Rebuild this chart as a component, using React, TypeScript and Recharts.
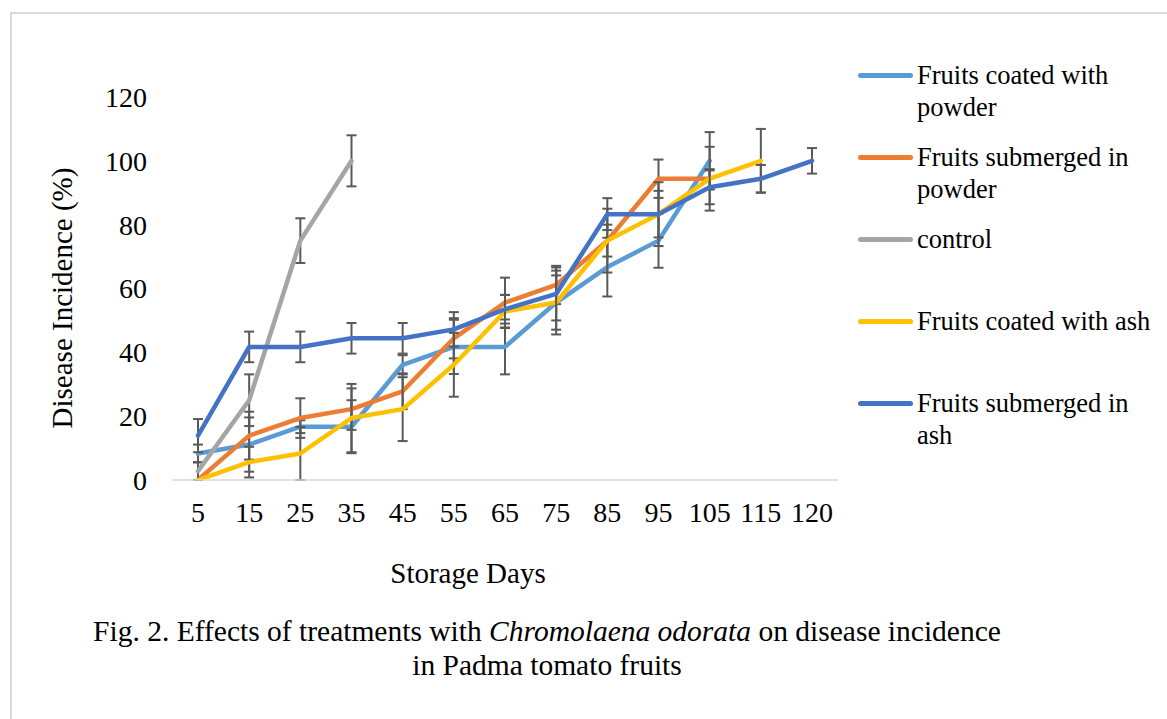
import React from 'react';
import { LineChart, Line, XAxis, YAxis, ErrorBar } from 'recharts';

// storage days (category axis)
const days = ['5', '15', '25', '35', '45', '55', '65', '75', '85', '95', '105', '115', '120'];

// disease incidence (%) per treatment, with standard error
const coatedPowder = [8.3, 11.1, 16.7, 16.7, 36.1, 41.7, 41.7, 55.6, 66.7, 75, 100, null, null];
const coatedPowderErr = [2.8, 8.5, 2, 8.3, 3, 8.5, 8.6, 10, 9.2, 8.5, 9, null, null];

const submergedPowder = [0, 13.9, 19.4, 22.2, 27.8, 44.4, 55.6, 61.1, 75, 94.4, 94.4, null, null];
const submergedPowderErr = [0, 7.5, 6.2, 6.5, 5.6, 6.3, 7.8, 6, 5, 6, 10, null, null];

const control = [2.8, 25, 75, 100, null, null, null, null, null, null, null, null, null];
const controlErr = [2.8, 8.1, 7, 8, null, null, null, null, null, null, null, null, null];

const coatedAsh = [0, 5.6, 8.3, 19.4, 22.2, 36.1, 52.8, 55.6, 75, 83.3, 94.4, 100, null];
const coatedAshErr = [0, 4.8, 8.3, 10.7, 10, 10, 5.2, 8.5, 10, 10, 3, 10, null];

const submergedAsh = [13.9, 41.7, 41.7, 44.4, 44.4, 47.2, 53.5, 58.3, 83.3, 83.3, 91.7, 94.4, 100];
const submergedAshErr = [5.2, 4.8, 4.8, 4.8, 4.8, 5.4, 4.5, 8.3, 5, 7.3, 5.3, 4.3, 4];

const yTicks = [0, 20, 40, 60, 80, 100, 120];

const seriesNames = [
    'Fruits coated with powder',
    'Fruits submerged in powder',
    'control',
    'Fruits coated with ash',
    'Fruits submerged in ash',
];
const seriesColors = ['#5B9BD5', '#ED7D31', '#A5A5A5', '#FFC000', '#4472C4'];
const seriesValues = [coatedPowder, submergedPowder, control, coatedAsh, submergedAsh];
const seriesErrors = [coatedPowderErr, submergedPowderErr, controlErr, coatedAshErr, submergedAshErr];

const data = days.map((day, i) => {
    const row: Record<string, string | number | null> = { day };
    seriesValues.forEach((vals, s) => {
        row[`s${s}`] = vals[i];
        row[`e${s}`] = seriesErrors[s][i];
    });
    return row;
});

const FONT = "'Liberation Serif', 'Times New Roman', serif";

const YLabel = () => (
    <text
        x={62}
        y={298}
        transform="rotate(-90 62 298)"
        textAnchor="middle"
        dominantBaseline="central"
        fontFamily={FONT}
        fontSize={29}
        fill="#000"
    >
        Disease Incidence (%)
    </text>
);

const XLabel = () => (
    <text x={468} y={573} textAnchor="middle" dominantBaseline="central" fontFamily={FONT} fontSize={29} fill="#000">
        Storage Days
    </text>
);

export default function App() {
    return (
        <div style={{ position: 'absolute', left: 0, top: 0, width: 1167, height: 719, overflow: 'hidden', background: '#fff', fontFamily: FONT }}>
            <div style={{ position: 'absolute', left: 10, top: 12, width: 1300, height: 900, borderTop: '2px solid #d9d9d9', borderLeft: '2px solid #d9d9d9' }} />
            <LineChart width={1167} height={719} data={data} margin={{ top: 97, right: 329, bottom: 0, left: 0 }}>
                <XAxis
                    dataKey="day"
                    height={239}
                    padding={{ left: 26, right: 26 }}
                    tickLine={false}
                    tickSize={0}
                    tickMargin={22}
                    axisLine={{ stroke: '#d9d9d9', strokeWidth: 1.5 }}
                    tick={{ fill: '#000', fontSize: 28, fontFamily: FONT }}
                    interval={0}
                    label={{ content: XLabel }}
                />
                <YAxis
                    width={172}
                    domain={[0, 120]}
                    ticks={yTicks}
                    allowDataOverflow
                    axisLine={false}
                    tickLine={false}
                    tickSize={0}
                    tickMargin={25}
                    tick={{ fill: '#000', fontSize: 28, fontFamily: FONT }}
                    label={{ content: YLabel }}
                />
                {seriesNames.map((name, s) => (
                    <Line
                        key={name}
                        name={name}
                        dataKey={`s${s}`}
                        stroke={seriesColors[s]}
                        strokeWidth={4.5}
                        strokeLinejoin="round"
                        strokeLinecap="round"
                        dot={false}
                        activeDot={false}
                        isAnimationActive={false}
                    >
                        <ErrorBar dataKey={`e${s}`} width={5} stroke="#595959" strokeWidth={2} direction="y" isAnimationActive={false} />
                    </Line>
                ))}
            </LineChart>
            <div style={{ position: 'absolute', left: 858, top: 59 }}>
                {seriesNames.map((name, s) => (
                    <div key={name} style={{ position: 'absolute', top: s * 82, left: 0, width: 300, display: 'flex', alignItems: 'flex-start' }}>
                        <div style={{ width: 55, height: 5, borderRadius: 3, background: seriesColors[s], marginTop: 14, flexShrink: 0 }} />
                        <div style={{ marginLeft: 4, width: 238, fontSize: 26.5, lineHeight: '32px', color: '#000' }}>{name}</div>
                    </div>
                ))}
            </div>
            <div style={{ position: 'absolute', left: 0, width: 1094, top: 614, textAlign: 'center', fontSize: 29.5, lineHeight: '34px', color: '#000' }}>
                <div>
                    Fig. 2. Effects of treatments with <i>Chromolaena odorata</i> on disease incidence
                </div>
                <div>in Padma tomato fruits</div>
            </div>
        </div>
    );
}
